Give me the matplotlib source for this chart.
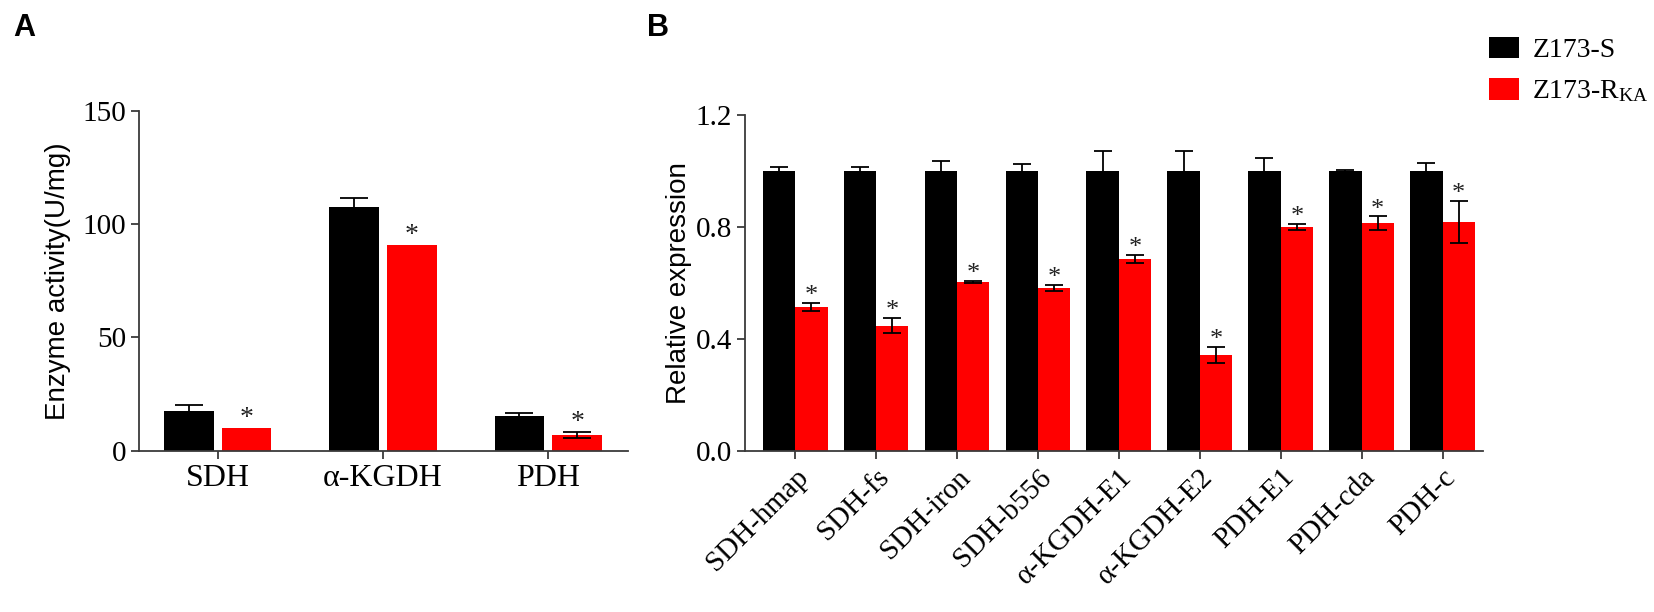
import numpy as np
import matplotlib.pyplot as plt
from matplotlib.patches import Patch

plt.rcParams['mathtext.fontset'] = 'custom'
plt.rcParams['mathtext.rm'] = 'Liberation Serif'
plt.rcParams['mathtext.it'] = 'Liberation Serif:italic'

SERIF = 'Liberation Serif'
SANS = 'Liberation Sans'
AXIS_COL = '#3a3a3a'

# Panel A: enzyme activity (U/mg)
enzymes = ['SDH', 'α-KGDH', 'PDH']
act_s = [17.6, 107.6, 15.2]
act_s_err = [2.7, 3.7, 1.6]
act_r = [10.0, 90.6, 6.9]
act_r_err = [0.0, 0.0, 1.2]

# Panel B: relative expression
genes = ['SDH-hmap', 'SDH-fs', 'SDH-iron', 'SDH-b556', 'α-KGDH-E1',
         'α-KGDH-E2', 'PDH-E1', 'PDH-cda', 'PDH-c']
expr_s = [1.0, 1.0, 1.0, 1.0, 1.0, 1.0, 1.0, 1.0, 1.0]
expr_s_err = [0.014, 0.014, 0.036, 0.025, 0.070, 0.070, 0.045, 0.003, 0.028]
expr_r = [0.515, 0.448, 0.604, 0.581, 0.686, 0.344, 0.801, 0.814, 0.818]
expr_r_err = [0.014, 0.027, 0.003, 0.011, 0.013, 0.028, 0.010, 0.024, 0.074]

series_labels = ['Z173-S', r'Z173-R$_{\mathrm{KA}}$']


def style_axis(ax):
    for side in ['top', 'right']:
        ax.spines[side].set_visible(False)
    for side in ['left', 'bottom']:
        ax.spines[side].set_color(AXIS_COL)
        ax.spines[side].set_linewidth(1.3)
    ax.tick_params(axis='both', colors=AXIS_COL, width=1.3, length=6)
    for lab in ax.get_xticklabels() + ax.get_yticklabels():
        lab.set_color('black')


def draw_bars(ax, vals_s, err_s, vals_r, err_r, width, offset, capsize, star_size, star_off):
    x = np.arange(len(vals_s))
    ax.bar(x - offset, vals_s, width, color='black', zorder=2)
    ax.bar(x + offset, vals_r, width, color='#ff0000', zorder=2)
    ax.errorbar(x - offset, vals_s, yerr=err_s, fmt='none', ecolor='black',
                elinewidth=1.3, capsize=capsize, capthick=1.3, zorder=3)
    err_r = np.array(err_r)
    m = err_r > 0
    ax.errorbar((x + offset)[m], np.array(vals_r)[m], yerr=err_r[m], fmt='none',
                ecolor='black', elinewidth=1.3, capsize=capsize, capthick=1.3, zorder=3)
    # significance stars above the resistant-strain bars
    for xi, v, e in zip(x + offset, vals_r, err_r):
        ax.annotate('*', (xi, v + e), xytext=(0, star_off), textcoords='offset points',
                    ha='center', va='bottom', fontsize=star_size, family=SERIF, color='#222222')
    return x


fig = plt.figure(figsize=(16.54, 6.12), dpi=100)

# ---- Panel A ----
axA = fig.add_axes([0.0842, 0.2636, 0.2953, 0.5555])
xa = draw_bars(axA, act_s, act_s_err, act_r, act_r_err, 0.30, 0.175, 10, 20, -2)
axA.set_xlim(-0.475, 2.48)
axA.set_ylim(0, 150)
axA.set_yticks([0, 50, 100, 150])
axA.set_xticks(xa)
axA.set_xticklabels(enzymes, fontsize=23, family=SERIF)
axA.tick_params(axis='y', labelsize=21)
for lab in axA.get_yticklabels():
    lab.set_family(SERIF)
axA.set_ylabel('Enzyme activity(U/mg)', fontsize=20, family=SANS)
axA.yaxis.set_label_coords(-0.14, 0.5)
style_axis(axA)

# ---- Panel B ----
axB = fig.add_axes([0.4504, 0.2631, 0.4462, 0.5490])
xb = draw_bars(axB, expr_s, expr_s_err, expr_r, expr_r_err, 0.40, 0.20, 6.5, 19, -3)
axB.set_xlim(-0.62, 8.5)
axB.set_ylim(0, 1.2)
axB.set_yticks([0.0, 0.4, 0.8, 1.2])
axB.set_yticklabels(['0.0', '0.4', '0.8', '1.2'], fontsize=21, family=SERIF)
axB.set_xticks(xb)
axB.set_xticklabels(genes, fontsize=21, family=SERIF, rotation=45,
                    ha='right', rotation_mode='anchor')
axB.set_ylabel('Relative expression', fontsize=20, family=SANS)
axB.yaxis.set_label_coords(-0.072, 0.5)
style_axis(axB)

# legend
handles = [Patch(facecolor='black'), Patch(facecolor='#ff0000')]
fig.legend(handles, series_labels, loc='upper left', bbox_to_anchor=(0.9005, 0.94),
           frameon=False, prop={'family': SERIF, 'size': 20},
           handlelength=1.05, handleheight=0.8, handletextpad=0.5,
           labelspacing=0.55, borderpad=0, borderaxespad=0)

# panel letters
fig.text(0.0077, 0.978, 'A', fontsize=22, fontweight='bold', family=SANS, va='top')
fig.text(0.391, 0.978, 'B', fontsize=22, fontweight='bold', family=SANS, va='top')

fig.savefig('out.png', dpi=100)
